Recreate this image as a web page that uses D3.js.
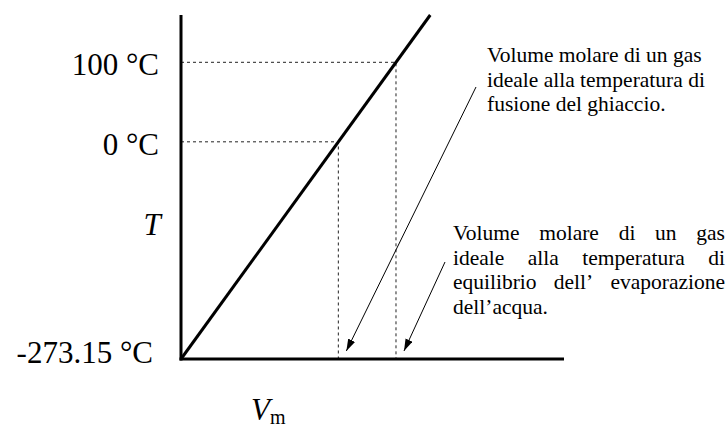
<!DOCTYPE html>
<html>
<head>
<meta charset="utf-8">
<script src="https://cdn.jsdelivr.net/npm/d3@7"></script>
<style>
  html, body { margin: 0; padding: 0; background: #fff; }
  svg { display: block; }
  text { font-family: "Liberation Serif", "Times New Roman", serif; fill: #000; }
</style>
</head>
<body>
<svg id="chart" width="728" height="429"></svg>
<script>
// Ideal gas: molar volume (L/mol, 1 atm) against temperature (°C)
const lineT = [-273.15, 159.5];
const lineVm = [0, 35.5];
const refT = [0, 100];
const refVm = [22.41, 30.62];
const tickT = [100, 0, -273.15];
const tickLabels = ["100 °C", "0 °C", "-273.15 °C"];
const noteMelt = ["Volume molare di un gas", "ideale alla temperatura di", "fusione del ghiaccio."];
const noteBoil = ["Volume molare di un gas", "ideale alla temperatura di", "equilibrio dell’ evaporazione", "dell’acqua."];

const svg = d3.select("#chart");

const x = d3.scaleLinear().domain([0, 54.55]).range([181, 564]);
const y = d3.scaleLinear().domain([-273.15, 159.5]).range([359, 15]);
const x0 = x(0), y0 = y(-273.15);

// arrowhead marker
svg.append("defs").append("marker")
  .attr("id", "head")
  .attr("markerUnits", "userSpaceOnUse")
  .attr("viewBox", "0 -4 12 8")
  .attr("refX", 12).attr("refY", 0)
  .attr("markerWidth", 12).attr("markerHeight", 8)
  .attr("orient", "auto")
  .append("path").attr("d", "M0,-3.8L12,0L0,3.8Z").attr("fill", "#000");

// dashed guides from the axis to the line
const refs = refT.map((t, i) => ({ t, v: refVm[i] }));
svg.append("g").selectAll("path").data(refs).join("path")
  .attr("d", d => `M${x0},${y(d.t)}H${x(d.v)}V${y0}`)
  .attr("fill", "none").attr("stroke", "#222").attr("stroke-width", 1)
  .attr("stroke-dasharray", "3,3");

// axes
svg.append("line").attr("x1", x0).attr("x2", x0).attr("y1", y.range()[1]).attr("y2", y0 + 1.5)
  .attr("stroke", "#000").attr("stroke-width", 3);
svg.append("line").attr("x1", x0 - 1.5).attr("x2", x.range()[1]).attr("y1", y0).attr("y2", y0)
  .attr("stroke", "#000").attr("stroke-width", 3);

// the straight line V(T)
const pts = lineT.map((t, i) => [lineVm[i], t]);
svg.append("path").datum(pts)
  .attr("d", d3.line().x(d => x(d[0])).y(d => y(d[1])))
  .attr("fill", "none").attr("stroke", "#000").attr("stroke-width", 3);

// temperature labels
svg.append("g").selectAll("text").data(tickT).join("text")
  .attr("x", d => d === -273.15 ? 153 : 159)
  .attr("y", d => d === -273.15 ? y(d) + 4 : y(d) + 13)
  .attr("text-anchor", "end")
  .attr("font-size", 31)
  .text((d, i) => tickLabels[i]);

// axis titles
svg.append("text").attr("x", 152).attr("y", 235).attr("text-anchor", "middle")
  .attr("font-size", 31).attr("font-style", "italic").text("T");
const vt = svg.append("text").attr("x", 251).attr("y", 420).attr("font-size", 31);
vt.append("tspan").attr("font-style", "italic").text("V");
vt.append("tspan").attr("font-size", 20).attr("dy", 4).text("m");

// annotations
const fs = 21.5, lh = 24.5;
function block(lines, left, top, right) {
  const g = svg.append("g");
  lines.forEach((ln, i) => {
    const yy = top + i * lh;
    const words = ln.split(" ");
    const justify = right != null && i < lines.length - 1;
    if (!justify) {
      g.append("text").attr("x", left).attr("y", yy).attr("font-size", fs).text(ln);
      return;
    }
    const t = g.append("text").attr("y", yy).attr("font-size", fs);
    const spans = words.map(w => t.append("tspan").text(w));
    const widths = spans.map(s => s.node().getComputedTextLength());
    const gap = (right - left - d3.sum(widths)) / (words.length - 1);
    let cx = left;
    spans.forEach((s, k) => { s.attr("x", cx); cx += widths[k] + gap; });
  });
}
block(noteMelt, 487, 62, null);
block(noteBoil, 453, 240, 725);

// leader arrows
const arrows = [
  { from: [476, 87], v: refVm[0] },
  { from: [445, 262], v: refVm[1] }
];
svg.append("g").selectAll("line").data(arrows).join("line")
  .attr("x1", d => d.from[0]).attr("y1", d => d.from[1])
  .attr("x2", d => x(d.v) + 8).attr("y2", y0 - 8)
  .attr("stroke", "#000").attr("stroke-width", 1)
  .attr("marker-end", "url(#head)");
</script>
</body>
</html>
